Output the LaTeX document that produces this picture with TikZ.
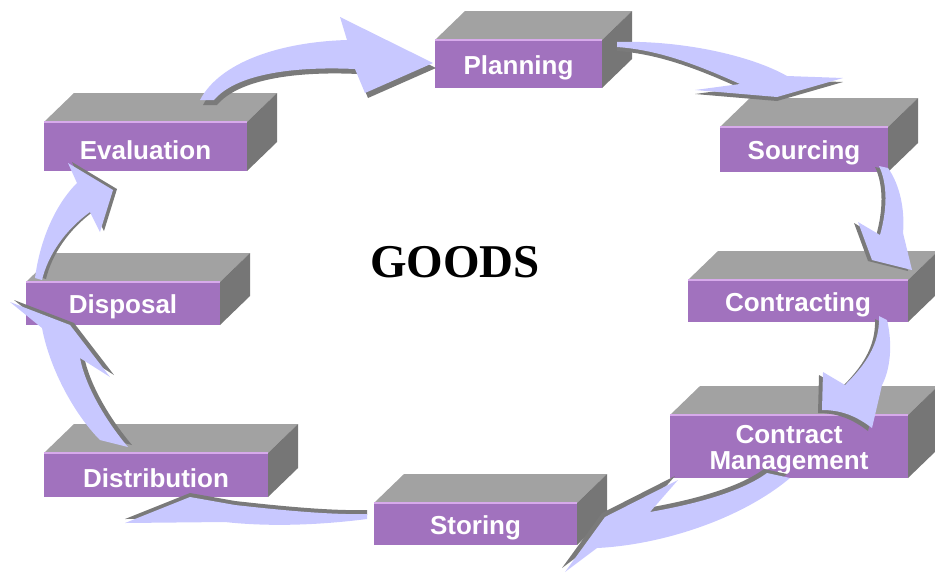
\documentclass[tikz,border=0pt]{standalone}
\usepackage{fontspec}
\usepackage{tikz}
\newfontfamily\stagefont{Liberation Sans}
\newfontfamily\titlefont{Liberation Serif}
\definecolor{frontface}{RGB}{161,114,190}
\definecolor{frontrim}{RGB}{215,170,235}
\definecolor{topface}{RGB}{162,162,162}
\definecolor{sideface}{RGB}{118,118,118}
\definecolor{arrowface}{RGB}{200,200,255}
\definecolor{arrowedge}{RGB}{122,122,122}

\tikzset{
  stagelabel/.style={text=white, inner sep=0pt, align=center, yshift=-1.75pt,
    font=\stagefont\bfseries\fontsize{13}{13}\selectfont},
  titlelabel/.style={text=black, inner sep=0pt,
    font=\titlefont\bfseries\fontsize{23.5}{24}\selectfont},
}

% box: name, front face (left, top, right, bottom), label
\newcommand{\stagebox}[6]{%
  \fill[topface] (#2,#3) -- ++(\bdx,\bdy) -- ++(#4-#2,0) -- (#4,#3) -- cycle;
  \fill[sideface] (#4,#3) -- ++(\bdx,\bdy) -- ++(0,#5-#3) -- (#4,#5) -- cycle;
  \fill[frontface] (#2,#3) rectangle (#4,#5);
  \draw[frontrim, line width=0.8pt] (#2,#3) -- (#4,#3);
  \node[stagelabel] (#1) at ({(#2+#4)/2},{(#3+#5)/2}) {#6};
}

% curved block arrow: shadow shift, outline
\newcommand{\flowarrow}[2]{%
  \fill[arrowedge, shift={#1}] #2;
  \fill[arrowface] #2;
}

\begin{document}
\begin{tikzpicture}[x=0.5pt, y=-0.5pt]
    \def\bdx{30}   % box depth, right
    \def\bdy{-29}  % box depth, up

    \useasboundingbox (0,0) rectangle (935,574);

    % --- boxes ---
    \stagebox{plan}{435}{40}{602}{88}{Planning}
    \stagebox{src}{720}{127}{888}{172}{Sourcing}
    \stagebox{eval}{44}{122}{247}{171}{Evaluation}
    \stagebox{disp}{26}{282}{220}{325}{Disposal}
    \stagebox{contr}{688}{280}{908}{322}{Contracting}
    \stagebox{cman}{670}{415}{908}{478}{Contract\\Management}
    \stagebox{distr}{44}{453}{268}{497}{Distribution}
    \stagebox{store}{374}{503}{577}{545}{Storing}

    % --- arrows ---
    % evaluation -> planning
    \flowarrow{(3,5)}{(200,100) .. controls (220,62) and (280,42) .. (347,40)
      -- (340,17) -- (433,63) -- (365,93) -- (355,69)
      .. controls (290,66) and (235,75) .. (214,100) -- cycle}
    % planning -> sourcing
    \flowarrow{(0,4)}{(617,42) .. controls (680,40) and (750,55) .. (787,76)
      -- (843,78) -- (777,97) -- (695,90) -- (740,84)
      .. controls (700,66) and (660,50) .. (617,47) -- cycle}
    % sourcing -> contracting
    \flowarrow{(-4,1)}{(888,168) .. controls (900,185) and (905,210) .. (903,233)
      -- (912,270) -- (872,260) -- (858,222) -- (880,235)
      .. controls (887,210) and (888,185) .. (879,166) -- cycle}
    % contracting -> contract management
    \flowarrow{(-4,3)}{(887,320) .. controls (893,345) and (890,370) .. (882,385)
      -- (872,428) .. controls (855,415) and (840,410) .. (822,410)
      -- (823,372) -- (845,385)
      .. controls (865,365) and (880,345) .. (879,316) -- cycle}
    % contract management -> storing
    \flowarrow{(-3,-4)}{(790,478) .. controls (740,520) and (660,545) .. (597,548)
      -- (565,572) -- (605,517) -- (678,480) -- (650,512)
      .. controls (690,505) and (740,493) .. (767,473) -- cycle}
    % storing -> distribution
    \flowarrow{(0,-4)}{(367,519) .. controls (320,525) and (270,527) .. (225,522)
      -- (125,523) -- (190,497) -- (235,505)
      .. controls (280,510) and (330,515) .. (367,514) -- cycle}
    % distribution -> disposal
    \flowarrow{(4,-2)}{(128,447) .. controls (105,420) and (85,385) .. (80,358)
      -- (110,377) -- (70,325) -- (10,302) -- (42,328)
      .. controls (50,370) and (75,415) .. (100,440) -- cycle}
    % disposal -> evaluation
    \flowarrow{(4,-1)}{(35,278) .. controls (40,240) and (55,205) .. (77,183)
      -- (68,163) -- (113,190) -- (100,232) -- (90,212)
      .. controls (65,230) and (48,255) .. (42,280) -- cycle}

    % --- centre title ---
    \node[titlelabel] (goods) at (455,262) {GOODS};
\end{tikzpicture}
\end{document}
